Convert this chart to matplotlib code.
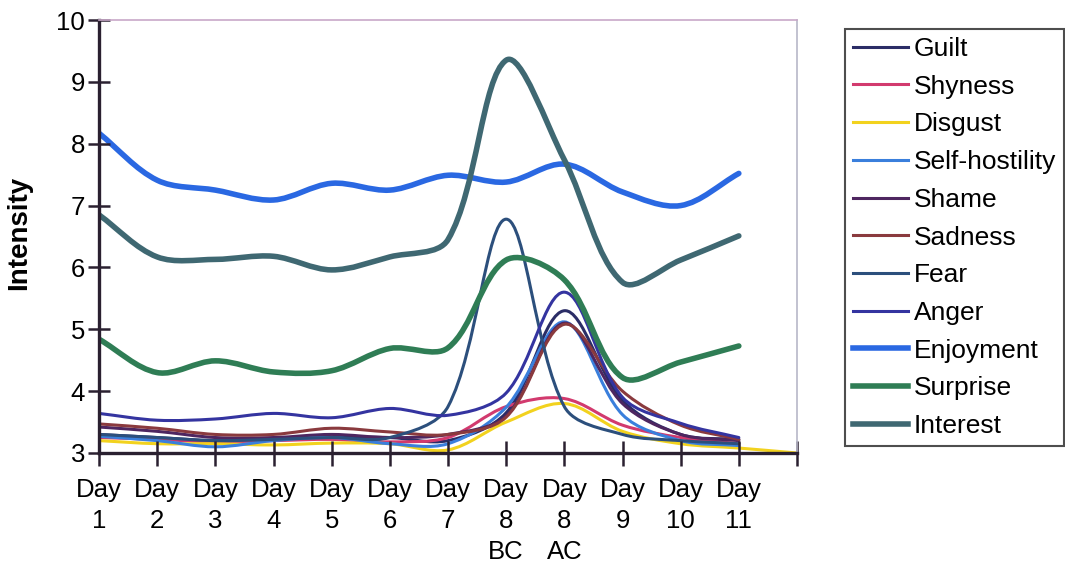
import numpy as np
import matplotlib
matplotlib.use("Agg")
import matplotlib.pyplot as plt
from matplotlib.path import Path
from matplotlib.patches import PathPatch
from matplotlib.lines import Line2D

plt.rcParams['font.family'] = ['Liberation Sans', 'DejaVu Sans']

categories = ["Day\n1", "Day\n2", "Day\n3", "Day\n4", "Day\n5", "Day\n6", "Day\n7",
              "Day\n8\nBC", "Day\n8\nAC", "Day\n9", "Day\n10", "Day\n11", ""]

nan = np.nan
guilt          = [3.30, 3.25, 3.20, 3.22, 3.25, 3.25, 3.20, 3.65, 5.30, 3.85, 3.30, 3.22, nan]
shyness        = [3.25, 3.22, 3.18, 3.20, 3.22, 3.18, 3.25, 3.75, 3.88, 3.45, 3.25, 3.15, nan]
disgust        = [3.20, 3.15, 3.15, 3.13, 3.16, 3.15, 3.05, 3.50, 3.80, 3.35, 3.15, 3.08, 3.00]
self_hostility = [3.27, 3.20, 3.10, 3.20, 3.25, 3.15, 3.15, 3.74, 5.12, 3.62, 3.20, 3.12, nan]
shame          = [3.42, 3.35, 3.25, 3.25, 3.30, 3.25, 3.30, 3.60, 5.10, 3.80, 3.30, 3.20, nan]
sadness        = [3.47, 3.40, 3.30, 3.30, 3.40, 3.34, 3.30, 3.58, 5.08, 4.00, 3.45, 3.22, nan]
fear           = [3.30, 3.25, 3.20, 3.22, 3.25, 3.25, 3.75, 6.78, 3.75, 3.30, 3.20, 3.15, nan]
anger          = [3.64, 3.53, 3.55, 3.64, 3.57, 3.72, 3.61, 3.97, 5.60, 3.90, 3.48, 3.25, nan]
enjoyment      = [8.17, 7.41, 7.25, 7.09, 7.36, 7.25, 7.49, 7.38, 7.67, 7.22, 7.00, 7.52, nan]
surprise       = [4.84, 4.30, 4.49, 4.31, 4.33, 4.69, 4.70, 6.12, 5.80, 4.22, 4.47, 4.73, nan]
interest       = [6.85, 6.17, 6.13, 6.18, 5.96, 6.17, 6.45, 9.35, 7.74, 5.76, 6.12, 6.51, nan]

series_names = ["Guilt", "Shyness", "Disgust", "Self-hostility", "Shame", "Sadness",
                "Fear", "Anger", "Enjoyment", "Surprise", "Interest"]
series_values = [guilt, shyness, disgust, self_hostility, shame, sadness,
                 fear, anger, enjoyment, surprise, interest]
series_colors = ["#2b2d66", "#d23a6e", "#f2d21e", "#3a7fdc", "#4e2660", "#8a3a3e",
                 "#2c4f7c", "#3434a0", "#2a68e2", "#2f7d55", "#3f6872"]
series_widths = [2.2, 2.2, 2.2, 2.2, 2.2, 2.2, 2.2, 2.2, 4.0, 4.0, 4.0]


def smooth_path(ax, xs, ys):
    """Excel-like smoothed line: cubic Bezier through the points, control
    handles scaled by neighbouring segment lengths measured on screen."""
    data = np.column_stack([xs, ys])
    scr = ax.transData.transform(data)
    n = len(data)
    ctrl_in = [None] * n
    ctrl_out = [None] * n
    for i in range(n):
        p0 = data[i - 1] if i > 0 else data[i]
        p2 = data[i + 1] if i < n - 1 else data[i]
        s0 = scr[i - 1] if i > 0 else scr[i]
        s1 = scr[i]
        s2 = scr[i + 1] if i < n - 1 else scr[i]
        d01 = np.hypot(*(s1 - s0))
        d12 = np.hypot(*(s2 - s1))
        tot = d01 + d12
        tang = (p2 - p0)
        if tot == 0:
            ctrl_in[i] = data[i]
            ctrl_out[i] = data[i]
            continue
        ctrl_out[i] = data[i] + tang * (d12 / tot) / 3.0
        ctrl_in[i] = data[i] - tang * (d01 / tot) / 3.0
    verts = [data[0]]
    codes = [Path.MOVETO]
    for i in range(n - 1):
        verts += [ctrl_out[i], ctrl_in[i + 1], data[i + 1]]
        codes += [Path.CURVE4] * 3
    return Path(verts, codes)


fig = plt.figure(figsize=(10.65, 5.69), dpi=100)
ax = fig.add_axes([99 / 1065, 1 - 453 / 569, 698 / 1065, 433 / 569])
ax.set_xlim(0, len(categories) - 1)
ax.set_ylim(3, 10)

x_all = np.arange(len(categories))
handles = []
for name, vals, col, lw in zip(series_names, series_values, series_colors, series_widths):
    v = np.asarray(vals, dtype=float)
    m = ~np.isnan(v)
    path = smooth_path(ax, x_all[m].astype(float), v[m])
    ax.add_patch(PathPatch(path, fill=False, edgecolor=col, lw=lw,
                           capstyle='round', joinstyle='round'))
    handles.append(Line2D([0], [0], color=col, lw=lw, label=name))

ax.set_xticks(x_all)
ax.set_xticklabels(categories, fontsize=18.5, linespacing=1.36)
ax.set_yticks(np.arange(3, 11))
ax.tick_params(axis='y', labelsize=18.5, direction='inout', length=16, width=1.8,
               color='#2a2030', pad=2)
ax.tick_params(axis='x', direction='inout', length=18, width=1.8, color='#2a2030', pad=9)

for s in ['left', 'bottom']:
    ax.spines[s].set_color('#2a2030')
    ax.spines[s].set_linewidth(2.4)
ax.spines['top'].set_color('#c8a8c8')
ax.spines['top'].set_linewidth(1.2)
ax.spines['right'].set_color('#b8b8c8')
ax.spines['right'].set_linewidth(1.2)

ax.set_ylabel("Intensity", fontsize=20, fontweight='bold')
ax.yaxis.set_label_coords(-0.096, 0.508)

leg = fig.legend(handles=handles, loc='upper left', bbox_to_anchor=(845 / 1065, 1 - 29 / 569),
                 bbox_transform=fig.transFigure, fontsize=19, frameon=True, fancybox=False,
                 borderaxespad=0, borderpad=0.3, handlelength=2.1, handletextpad=0.2,
                 labelspacing=0.52)
leg.get_frame().set_edgecolor('#222222')
leg.get_frame().set_linewidth(1.5)

fig.savefig("out.png", dpi=100)
